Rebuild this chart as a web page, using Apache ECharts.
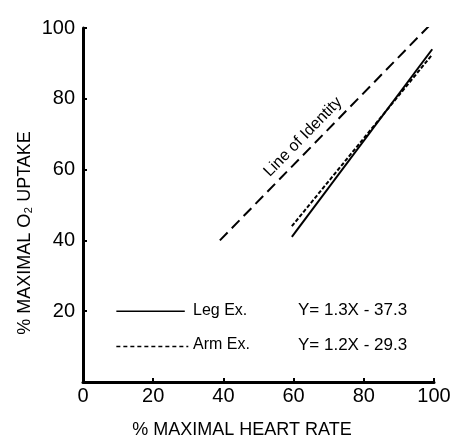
<!DOCTYPE html>
<html><head><meta charset="utf-8">
<script src="https://cdn.jsdelivr.net/npm/echarts@6/dist/echarts.min.js"></script>
<style>html,body{margin:0;padding:0;background:#fff}#c{width:454px;height:438px}</style>
</head><body><div id="c"></div>
<script>
var xTicks = [0, 20, 40, 60, 80, 100];
var yTicks = [0, 20, 40, 60, 80, 100];
var identityLine = [[39, 40], [99, 101]];
var legLine = [[59.5, 41], [99.5, 94]];
var armLine = [[59.5, 44], [99.5, 92.5]];
var legKey = [[9.5, 20], [29, 20]];
var armKey = [[9.5, 10], [30, 10]];
var texts = {leg: 'Leg Ex.', arm: 'Arm Ex.', legEq: 'Y= 1.3X - 37.3', armEq: 'Y= 1.2X - 29.3', identity: 'Line of Identity'};

var FONT = 'Liberation Sans';
var chart = echarts.init(document.getElementById('c'));
function lineSeries(data, type, dash, w) {
  return {type: 'line', data: data, symbol: 'none', silent: true, animation: false,
    lineStyle: {color: '#000', width: w, type: type === 'dashed' ? dash : 'solid'}};
}
chart.setOption({
  animation: false,
  grid: {left: 83, right: 20, top: 28, bottom: 56},
  xAxis: {type: 'value', min: 0, max: 100, interval: 20,
    axisLine: {lineStyle: {color: '#000', width: 3}},
    axisTick: {inside: true, length: 4, lineStyle: {color: '#000', width: 2}},
    axisLabel: {color: '#000', fontSize: 20, fontFamily: FONT, margin: 4},
    splitLine: {show: false}},
  yAxis: {type: 'value', min: 0, max: 100, interval: 20,
    axisLine: {lineStyle: {color: '#000', width: 3}},
    axisTick: {inside: true, length: 4, lineStyle: {color: '#000', width: 2}},
    axisLabel: {color: '#000', fontSize: 20, fontFamily: FONT, margin: 8,
      formatter: function (v) { return v === 0 ? '' : String(v); }},
    splitLine: {show: false}},
  series: [
    lineSeries(identityLine, 'dashed', [11, 6], 2),
    lineSeries(legLine, 'solid', null, 2),
    lineSeries(armLine, 'dashed', [4, 2], 2),
    lineSeries(legKey, 'solid', null, 1.5),
    lineSeries(armKey, 'dashed', [4, 3], 1.5)
  ],
  graphic: [
    {type: 'text', left: 193, top: 303, style: {text: texts.leg, font: '16px ' + FONT, fill: '#000'}},
    {type: 'text', left: 193, top: 337, style: {text: texts.arm, font: '16px ' + FONT, fill: '#000'}},
    {type: 'text', left: 298, top: 302, style: {text: texts.legEq, font: '17px ' + FONT, fill: '#000'}},
    {type: 'text', left: 298, top: 337, style: {text: texts.armEq, font: '17px ' + FONT, fill: '#000'}},
    {type: 'text', x: 303, y: 137, rotation: 45.7 * Math.PI / 180,
      style: {text: texts.identity, font: '16px ' + FONT, fill: '#000', align: 'center', verticalAlign: 'middle'}},
    {type: 'text', x: 242, y: 430, style: {text: '% MAXIMAL HEART RATE', font: '18px ' + FONT, fill: '#000', align: 'center', verticalAlign: 'middle'}},
    {type: 'text', x: 25, y: 233, rotation: Math.PI / 2,
      style: {text: '% MAXIMAL O₂ UPTAKE', font: '18px ' + FONT, fill: '#000', align: 'center', verticalAlign: 'middle'}}
  ]
});
</script></body></html>
